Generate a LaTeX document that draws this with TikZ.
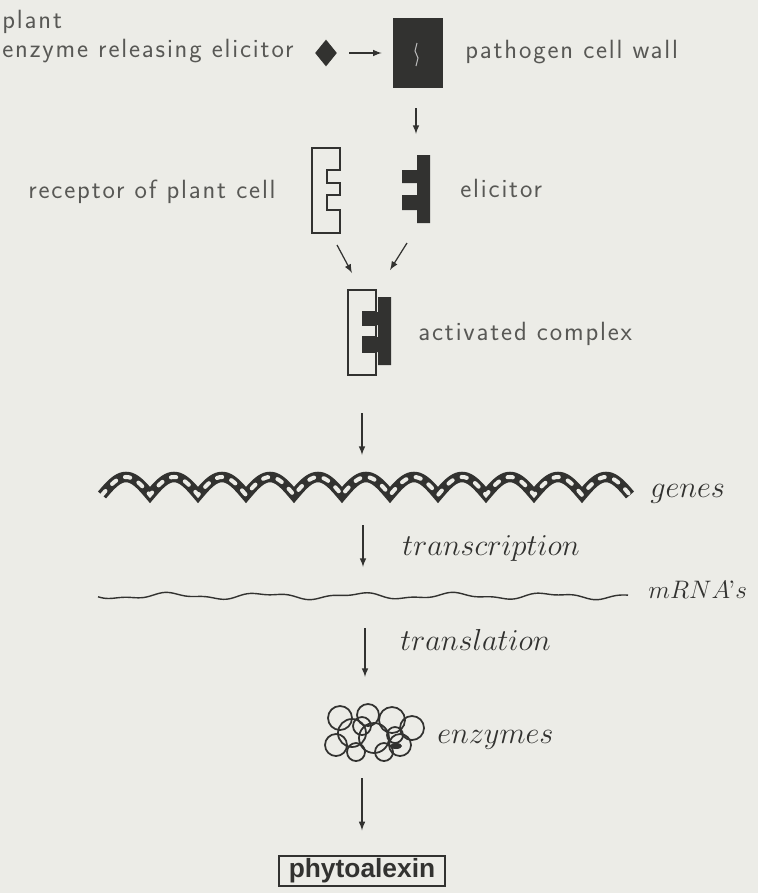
\documentclass[tikz,border=0pt]{standalone}
\usepackage{fontspec}
\newfontfamily\boxfont{Liberation Sans}
\newfontfamily\plotfont{lmsans17-regular.otf}[LetterSpace=7]
\usetikzlibrary{calc,shapes.geometric}

\definecolor{paper}{RGB}{236,236,231}
\definecolor{ink}{RGB}{50,50,48}
\definecolor{pencil}{RGB}{88,88,85}

\tikzset{
  plot label/.style={anchor=base west,inner sep=0pt,text=pencil,font=\plotfont\fontsize{15}{18}\selectfont},
  math label/.style={anchor=base west,inner sep=0pt,text=ink,font=\LARGE},
  flow/.style={-latex,ink,line width=0.7pt},
  receptor/.pic={
    \draw[ink,line width=0.8pt] (0,0) -- (28,0) -- (28,22) -- (15,22) -- (15,35)
      -- (28,35) -- (28,47) -- (15,47) -- (15,62) -- (28,62) -- (28,85) -- (0,85) -- cycle;
    \coordinate (-foot) at (25,97);
  },
  elicitor/.pic={
    \fill[ink] (0,22) -- (15,22) -- (15,7) -- (28,7) -- (28,75) -- (15,75) -- (15,62)
      -- (0,62) -- (0,47) -- (15,47) -- (15,35) -- (0,35) -- cycle;
    \coordinate (-foot) at (5,95);
  }
}

\begin{document}
\begin{tikzpicture}[x=0.02cm,y=-0.02cm]
  \fill[paper] (0,0) rectangle (758,893);
  \path[use as bounding box] (0,0) rectangle (758,893);

  % elicitor set free from the pathogen wall
  \node[plot label] (plant) at (2,28) {plant};
  \node[plot label] (release) at (2,57) {enzyme releasing elicitor};
  \node[diamond,fill=ink,inner sep=0pt,minimum width=0.44cm,minimum height=0.54cm] (enzyme) at (326,53) {};
  \node[fill=ink,inner sep=0pt,minimum width=1cm,minimum height=1.4cm] (wall) at (418,53) {};
  \draw[gray!55,line width=0.6pt] (417,43) -- (415,51) -- (418,58) -- (416,66);
  \node[plot label] (wall label) at (465,58) {pathogen cell wall};
  \draw[flow,shorten <=0.24cm,shorten >=0.22cm] (enzyme.east) -- (enzyme.east -| wall.west);

  % receptor and elicitor
  \pic (rec) at (312,148) {receptor};
  \pic (eli) at (402,148) {elicitor};
  \node[plot label] (rec label) at (28,198) {receptor of plant cell};
  \node[plot label] (eli label) at (460,197) {elicitor};
  \draw[flow] (rec-foot) -- ++(15,28);
  \draw[flow] (eli-foot) -- ++(-17,27);

  % the two bound together
  \pic (cplx) at (348,290) {receptor};
  \pic at (363,290) {elicitor};
  \node[plot label] (cplx label) at (418,340) {activated complex};

  % genes
  \draw[ink,line width=6pt] plot[domain=102:630,samples=441] (\x,{495-18*abs(sin(180*((\x-102)/48)))});
  \draw[paper,line width=2.3pt,line cap=round,dash pattern=on 3pt off 5.5pt]
    plot[domain=102:630,samples=441] (\x,{495-18*abs(sin(180*((\x-102)/48)))});
  \node[math label] (genes) at (650,497) {$genes$};
  \node[math label] (transcription) at (402,555) {$transcription$};

  % messenger
  \draw[ink,line width=0.8pt] plot[domain=98:628,samples=200,smooth]
    (\x,{596+2.5*sin(360*((\x-98)/95))+1.2*sin(360*((\x-98)/41)+40)});
  \node[math label,font=\Large] (mrna) at (648,598) {$mRNA$\kern-1pt'$s$};
  \node[math label] (translation) at (400,650) {$translation$};

  % enzymes as a tangle
  \foreach \cx/\cy/\r in {340/718/12, 336/745/11, 352/733/14, 368/715/11, 374/738/15,
      392/720/13, 400/745/11, 412/728/12, 384/752/9, 356/752/9, 362/726/9, 395/735/8}
    \draw[ink,line width=1pt] (\cx,\cy) circle[radius=\r*0.02cm];
  \fill[ink] (396,746) ellipse[x radius=0.12cm,y radius=0.06cm];
  \node[math label] (enzymes) at (437,743) {$enzymes$};

  \node[draw=ink,line width=0.8pt,inner sep=0pt,minimum width=3.32cm,minimum height=0.6cm,
    font=\boxfont\bfseries\fontsize{15}{18}\selectfont,text=ink] (phyto) at (362,871) {phytoalexin};

  % downward steps
  \foreach \name/\x/\y/\len in {wall step/416/108/26, cplx step/362/413/42,
      dna step/363/525/42, mrna step/365/628/49}
  {
    \coordinate (\name) at (\x,\y);
    \draw[flow] (\name) -- ++(0,\len);
  }
  \coordinate (enzyme step) at (362,778);
  \draw[flow,shorten >=0.5cm] (enzyme step) -- (phyto.north);
\end{tikzpicture}
\end{document}
